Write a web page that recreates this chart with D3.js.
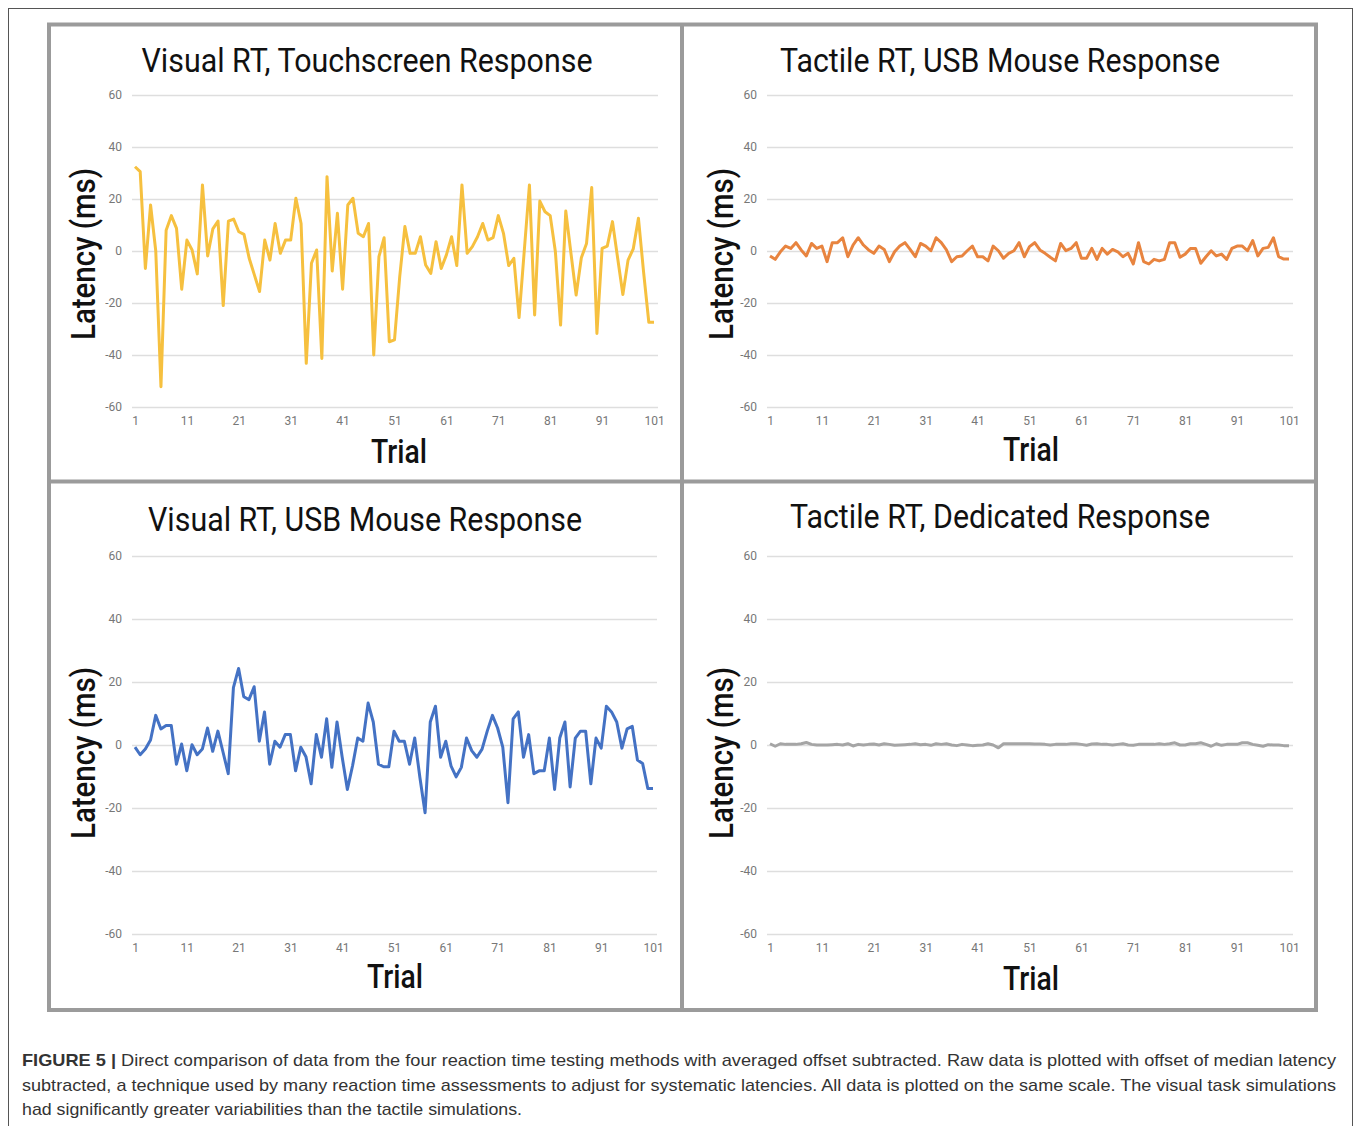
<!DOCTYPE html>
<html>
<head>
<meta charset="utf-8">
<script src="https://cdnjs.cloudflare.com/ajax/libs/d3/7.8.5/d3.min.js"></script>
<style>
  body { margin: 0; background: #fff; }
  svg { display: block; }
</style>
</head>
<body>
<div id="chart"></div>
<script>
const width = 1358;
const height = 1126;

// data
const trials = d3.range(1, 102);
const xTicks = [1, 11, 21, 31, 41, 51, 61, 71, 81, 91, 101];
const yTicks = [60, 40, 20, 0, -20, -40, -60];

const visualTouch = [
  32.4, 30.5, -6.7, 17.7, 0, -52.2, 8, 13.6, 8.7, -14.7,
  4.2, 0.4, -8.8, 25.4, -1.9, 8.5, 11.5, -21, 11.5, 12.3,
  7.4, 6.4, -2.8, -9.2, -15.6, 4.2, -3.5, 10.6, -0.9, 4.2,
  4.2, 20.3, 10.6, -43.2, -4.7, 0.4, -41.3, 28.6, -7.7, 14.5,
  -14.7, 17.7, 20.3, 6.8, 5.5, 10.6, -40, -2.2, 5.1, -34.9,
  -34.2, -10, 9.4, -0.9, -0.9, 5.5, -5.4, -8.6, 3.6, -6.7,
  -1.5, 5.5, -5.6, 25.4, -0.9, 1.7, 5.5, 10.6, 4.2, 5.1,
  13.6, 6.8, -5.6, -2.8, -25.6, 0, 25.4, -24.6, 19.2, 15.1,
  13.6, -0.3, -28.5, 15.4, -0.9, -16.9, -2.6, 2.9, 24.4, -31.7,
  1, 1.9, 11.3, -2.8, -16.7, -3.5, 0.8, 12.6, -8.2, -27.4,
  -27.4
];

const tactileMouse = [
  -1.9, -3.2, -0.3, 1.9, 1, 3.2, 0.4, -1.9, 2.9, 1,
  1.9, -4.1, 3.2, 3.2, 5.1, -2.2, 2.3, 5.1, 2.3, 0.4,
  -0.9, 1.9, 0.6, -4.1, -0.3, 1.9, 3.2, 0.6, -2.2, 2.9,
  1.9, 0.1, 5.1, 3.2, 0.4, -4.1, -2.2, -1.9, 0.1, 1.9,
  -2.2, -2.2, -3.8, 1.9, 0.1, -2.8, -0.9, 0.1, 3.2, -2.2,
  1.7, 3.2, 0.4, -0.9, -2.4, -3.8, 2.9, 0.1, 1, 3.2,
  -2.8, -2.8, 1, -3.2, 1, -1.2, 0.6, -0.3, -2.2, -0.9,
  -5, 3.2, -4.1, -5, -3.2, -3.8, -3.2, 3.2, 3.2, -2.4,
  -1.2, 1, 1, -4.7, -2.2, 0.1, -1.9, -1.2, -3.2, 1,
  1.9, 1.9, 0.1, 4, -1.9, 1, 1.4, 5.1, -2.2, -3.1,
  -3.1
];

const visualMouse = [
  -0.7, -3.1, -1.3, 1.6, 9.4, 5.1, 6.2, 6.2, -6.1, 0.3,
  -8.2, 0.1, -3.1, -1.3, 5.4, -2, 4.4, -2.3, -9.1, 18.2,
  24.3, 15.3, 14.4, 18.5, 1.2, 10.5, -6.1, 1.2, -0.7, 3.3,
  3.3, -8.2, -0.7, -3.7, -12.3, 3.3, -3.9, 8.3, -7.1, 7.3,
  -3.9, -14.1, -6.6, 2.2, 1.2, 13.3, 7.3, -6.1, -6.9, -6.9,
  4.4, 1.2, 1.2, -6.1, 2.2, -10.3, -21.5, 7.3, 12.3, -3.9,
  1.2, -6.6, -10.1, -7.1, 2.2, -1.8, -3.9, -1.3, 4.4, 9.4,
  5.4, -0.7, -18.3, 8.3, 10.5, -3.9, 3.3, -9.1, -8.2, -8.2,
  2.2, -14.1, 2.2, 7.3, -13.3, 2.2, 4.4, 4.4, -12.3, 2.2,
  -1, 12.3, 10.5, 7.3, -1, 5.1, 5.9, -4.8, -5.9, -13.8,
  -13.8
];

const tactileDedicated = [
  0.4, -0.4, 0.4, 0.2, 0.2, 0.2, 0.4, 0.8, 0.2, 0,
  0, 0, 0.1, 0.2, 0, 0.4, -0.3, 0.2, 0, 0.2,
  0.3, 0, 0.4, 0.2, -0.1, 0, 0.1, 0.2, 0.4, 0.1,
  0.2, -0.1, 0.4, 0.2, 0.4, 0, -0.2, 0.2, 0, -0.2,
  -0.1, 0, 0.4, 0, -0.9, 0.4, 0.4, 0.4, 0.4, 0.4,
  0.4, 0.3, 0.3, 0.2, 0, 0.2, 0.2, 0.2, 0.4, 0.4,
  0.2, -0.1, 0.3, 0.4, 0.2, 0.2, 0, 0.2, 0.4, 0,
  -0.1, 0.2, 0.2, 0.2, 0.2, 0.4, 0.2, 0.4, 0.7, 0,
  0, 0.4, 0.4, 0.7, 0.2, -0.4, 0.4, -0.1, 0.2, 0.2,
  0.2, 0.7, 0.7, 0.2, -0.1, -0.4, 0.1, 0, 0, -0.2,
  -0.2
];

const captionLines = [
  "Direct comparison of data from the four reaction time testing methods with averaged offset subtracted. Raw data is plotted with offset of median latency",
  "subtracted, a technique used by many reaction time assessments to adjust for systematic latencies. All data is plotted on the same scale. The visual task simulations",
  "had significantly greater variabilities than the tactile simulations."
];

const panels = [
  { title: "Visual RT, Touchscreen Response", values: visualTouch, color: "#f6c03f",
    x0: 135, x1: 654, yTop: 95, yBot: 407, tx: 367, ty: 72, tw: 451, lx: 84, ly: 254, trx: 399, try: 463 },
  { title: "Tactile RT, USB Mouse Response", values: tactileMouse, color: "#e8843f",
    x0: 770, x1: 1289, yTop: 95, yBot: 407, tx: 1000, ty: 72, tw: 440, lx: 722, ly: 254, trx: 1031, try: 461 },
  { title: "Visual RT, USB Mouse Response", values: visualMouse, color: "#4472c4",
    x0: 135, x1: 653, yTop: 556, yBot: 934, tx: 365, ty: 531, tw: 434, lx: 84, ly: 753, trx: 395, try: 988 },
  { title: "Tactile RT, Dedicated Response", values: tactileDedicated, color: "#a5a5a5",
    x0: 770, x1: 1289, yTop: 556, yBot: 934, tx: 1000, ty: 528, tw: 420, lx: 722, ly: 753, trx: 1031, try: 990 }
];

const svg = d3.select("#chart").append("svg")
  .attr("width", width)
  .attr("height", height);

// outer figure border
svg.append("rect")
  .attr("x", 8.5).attr("y", 8.5)
  .attr("width", 1344).attr("height", 1140)
  .attr("fill", "none").attr("stroke", "#555").attr("stroke-width", 1);

panels.forEach((p) => {
  const x = d3.scaleLinear().domain([1, 101]).range([p.x0, p.x1]);
  const y = d3.scaleLinear().domain([-60, 60]).range([p.yBot, p.yTop]);

  const g = svg.append("g");

  // grid lines + y labels (plain hyphen minus like the original)
  g.append("g")
    .call(d3.axisLeft(y).tickValues(yTicks).tickFormat((d) => String(d))
      .tickSize(-(p.x1 - p.x0 + 7)).tickPadding(10))
    .attr("transform", `translate(${p.x0 - 3},0)`)
    .call((a) => a.select(".domain").remove())
    .call((a) => a.selectAll(".tick line").attr("stroke", "#dedede").attr("stroke-width", 1.3))
    .call((a) => a.selectAll(".tick text")
      .attr("fill", "#777").attr("font-size", 12)
      .attr("font-family", "Roboto, 'Liberation Sans', sans-serif"));

  // x labels
  g.append("g")
    .call(d3.axisBottom(x).tickValues(xTicks).tickSize(0).tickPadding(0))
    .attr("transform", `translate(0,${p.yBot + 9})`)
    .call((a) => a.select(".domain").remove())
    .call((a) => a.selectAll(".tick text")
      .attr("fill", "#777").attr("font-size", 12)
      .attr("font-family", "Roboto, 'Liberation Sans', sans-serif"));

  const line = d3.line()
    .x((d, i) => x(trials[i]))
    .y((d) => y(d));

  g.append("path")
    .datum(p.values)
    .attr("fill", "none")
    .attr("stroke", p.color)
    .attr("stroke-width", 3)
    .attr("stroke-linejoin", "round")
    .attr("d", line);

  g.append("text")
    .attr("x", p.tx).attr("y", p.ty)
    .attr("text-anchor", "middle")
    .attr("font-family", "Roboto, sans-serif")
    .attr("font-size", 34)
    .attr("fill", "#111")
    .attr("textLength", p.tw)
    .attr("lengthAdjust", "spacingAndGlyphs")
    .text(p.title);

  g.append("text")
    .attr("transform", `translate(${p.lx + 11},${p.ly}) rotate(-90)`)
    .attr("text-anchor", "middle")
    .attr("font-family", "Roboto, sans-serif")
    .attr("font-weight", 500)
    .attr("font-size", 33)
    .attr("fill", "#111")
    .attr("textLength", 172)
    .attr("lengthAdjust", "spacingAndGlyphs")
    .text("Latency (ms)");

  g.append("text")
    .attr("x", p.trx).attr("y", p.try)
    .attr("text-anchor", "middle")
    .attr("font-family", "Roboto, sans-serif")
    .attr("font-weight", 500)
    .attr("font-size", 34)
    .attr("fill", "#111")
    .attr("textLength", 56)
    .attr("lengthAdjust", "spacingAndGlyphs")
    .text("Trial");
});

// grey panel frame
const frame = svg.append("g").attr("fill", "none").attr("stroke", "#9b9b9b").attr("stroke-width", 4);
frame.append("rect").attr("x", 49).attr("y", 24.5).attr("width", 1267).attr("height", 985.5);
frame.append("line").attr("x1", 682).attr("x2", 682).attr("y1", 24.5).attr("y2", 1010);
frame.append("line").attr("x1", 49).attr("x2", 1316).attr("y1", 481.5).attr("y2", 481.5);

// caption
const cap = svg.append("g")
  .attr("font-family", "'Liberation Sans', Arial, sans-serif")
  .attr("font-size", 17)
  .attr("fill", "#333");

const c1 = cap.append("text").attr("x", 22).attr("y", 1066)
  .attr("textLength", 1314).attr("lengthAdjust", "spacingAndGlyphs");
c1.append("tspan").attr("font-weight", "bold").text("FIGURE 5 |");
c1.append("tspan").text(" " + captionLines[0]);

cap.append("text").attr("x", 22).attr("y", 1091)
  .attr("textLength", 1314).attr("lengthAdjust", "spacingAndGlyphs")
  .text(captionLines[1]);

cap.append("text").attr("x", 22).attr("y", 1115)
  .attr("textLength", 500).attr("lengthAdjust", "spacingAndGlyphs")
  .text(captionLines[2]);
</script>
</body>
</html>
